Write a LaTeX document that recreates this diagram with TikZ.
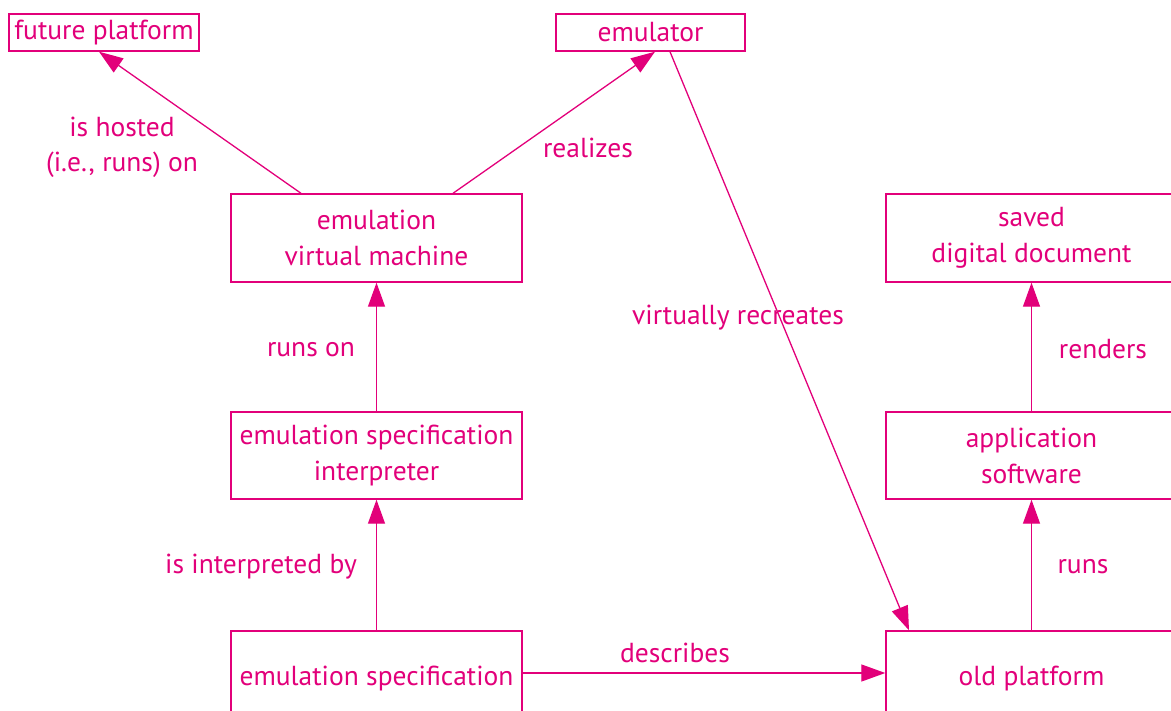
\documentclass[tikz,border=0pt]{standalone}
\usepackage{fontspec}
\setmainfont{PT Sans}
\usetikzlibrary{arrows.meta}
\definecolor{mag}{RGB}{226,0,122}
\tikzset{
  box/.style={draw=mag, line width=1.4pt, minimum width=291pt, align=center, inner sep=0pt, text=mag,
    font=\fontsize{27.5}{36}\selectfont},
  lbl/.style={text=mag, align=center, inner sep=0pt, font=\fontsize{27.5}{35}\selectfont},
  conn/.style={draw=mag, line width=1.3pt, -{Triangle[length=24pt,width=17pt]}}
}
\begin{document}
\begin{tikzpicture}[x=1pt,y=-1pt]
\useasboundingbox (0,0) rectangle (1171,711);
\clip (0,0) rectangle (1171,711);
\node[box, minimum width=190pt, minimum height=37pt] (fp) at (104,32.5) {future platform};
\node[box, minimum width=189pt, minimum height=37pt] (emu) at (650.5,32.5) {emulator};
\node[box, minimum height=88pt] (vm) at (376.5,238) {emulation\\virtual machine};
\node[box, minimum height=87pt] (interp) at (376.5,455.5) {emulation specification\\interpreter};
\node[box, minimum height=96pt] (spec) at (376.5,679) {emulation specification};
\node[box, minimum height=88pt] (saved) at (1031.5,238) {saved\\digital document};
\node[box, minimum height=87pt] (app) at (1031.5,455.5) {application\\software};
\node[box, minimum height=96pt] (old) at (1031.5,679) {old platform};

\draw[conn] ([xshift=-75.5pt]vm.north) -- ([xshift=-5pt]fp.south);
\draw[conn] ([xshift=76.5pt]vm.north) -- ([xshift=4.5pt]emu.south);
\draw[conn] ([xshift=19.5pt]emu.south) -- ([xshift=-122.5pt]old.north);
\draw[conn] (interp.north) -- (vm.south);
\draw[conn] (spec.north) -- (interp.south);
\draw[conn] ([yshift=6pt]spec.east) -- ([yshift=6pt]old.west);
\draw[conn] (old.north) -- (app.south);
\draw[conn] (app.north) -- (saved.south);

\node[lbl] (l1) at (122,147) {is hosted\\(i.e., runs) on};
\node[lbl] (l2) at (588,148) {realizes};
\node[lbl] (l3) at (738,318) {virtually recreates};
\node[lbl] (l4) at (311,350) {runs on};
\node[lbl] (l5) at (261,567) {is interpreted by};
\node[lbl] (l6) at (675,653) {describes};
\node[lbl] (l7) at (1103,349) {renders};
\node[lbl] (l8) at (1083,567) {runs};
\end{tikzpicture}
\end{document}
